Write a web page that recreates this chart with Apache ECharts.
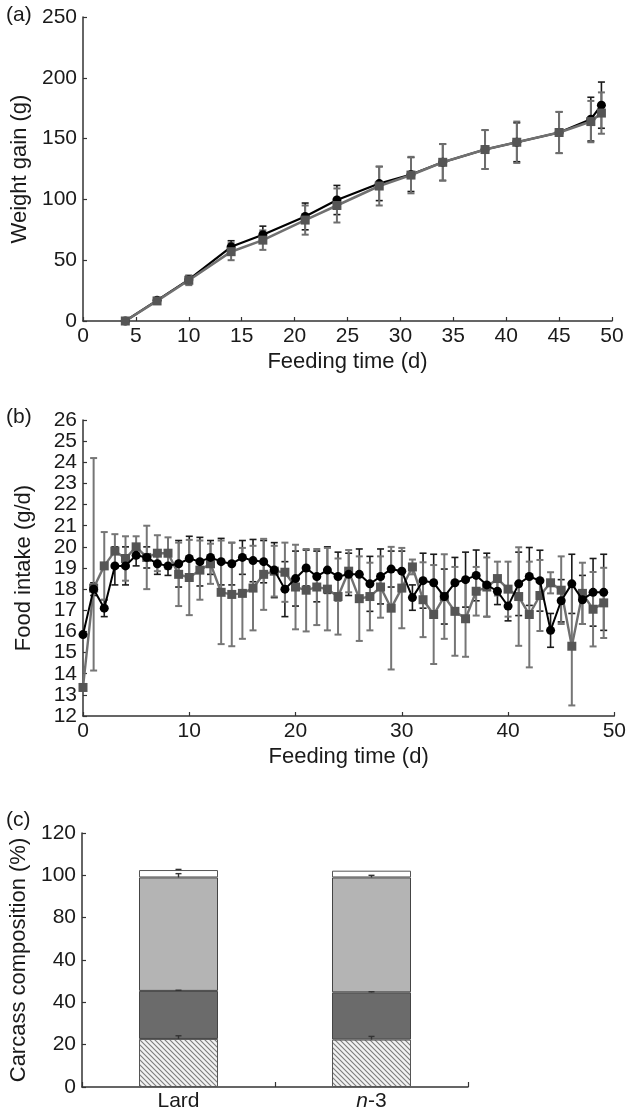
<!DOCTYPE html>
<html>
<head>
<meta charset="utf-8">
<script src="https://cdn.jsdelivr.net/npm/echarts@6/dist/echarts.min.js"></script>
<style>
html,body{margin:0;padding:0;background:#fff;}
#chart{width:629px;height:1112px;}
</style>
</head>
<body>
<div id="chart"></div>
<script>
// ---------- Panel (a): weight gain ----------
const daysA = [4, 7, 10, 14, 17, 21, 24, 28, 31, 34, 38, 41, 45, 48, 49];
const gainLard = [0, 17, 34, 61, 71, 86, 99.5, 113, 120.5, 130.5, 141, 147, 155, 166, 177.5];
const gainN3 = [0, 16.5, 33.5, 57, 66.5, 83, 95, 111, 120, 130.5, 141, 147, 155, 164, 171];
const sdGainLard = [0.5, 2, 3, 5, 7, 11, 12, 14, 14, 15, 16, 16, 17, 18, 19];
const sdGainN3 = [0.5, 2, 4, 7, 8, 12, 14, 16, 15, 15, 16, 17, 17, 17, 17];

// ---------- Panel (b): food intake ----------
const daysB = [0,1,2,3,4,5,6,7,8,9,10,11,12,13,14,15,16,17,18,19,20,21,22,23,24,25,26,27,28,29,30,31,32,33,34,35,36,37,38,39,40,41,42,43,44,45,46,47,48,49];
const intakeLard = [15.85,18.0,17.1,19.1,19.1,19.6,19.5,19.2,19.1,19.2,
  19.45,19.3,19.5,19.3,19.2,19.5,19.35,19.3,18.9,18.0,
  18.5,19.0,18.6,18.9,18.6,18.7,18.7,18.25,18.6,18.95,
  18.85,17.6,18.4,18.3,17.65,18.3,18.45,18.65,18.2,17.9,
  17.2,18.25,18.6,18.4,16.05,17.45,18.25,17.5,17.85,17.85];
const intakeN3 = [13.35,18.05,19.1,19.8,19.45,20.0,19.5,19.7,19.7,18.7,
  18.55,18.9,19.2,17.85,17.75,17.8,18.05,18.7,18.85,18.8,
  18.1,17.95,18.1,18.0,17.65,18.85,17.55,17.65,18.1,17.1,
  18.05,19.05,17.5,16.8,17.65,16.95,16.6,17.9,18.1,18.5,
  18.0,17.65,16.8,17.7,18.3,17.95,15.3,17.8,17.05,17.35];
const sdIntakeLard = [0,0.3,0.4,0.9,0.9,0.5,0.5,0.5,0.45,1.1,
  1.05,1.15,0.8,1.1,1.0,0.8,1.0,1.0,1.3,1.3,
  1.3,0.85,1.2,1.1,1.15,1.0,1.2,1.3,1.3,0.85,
  0.95,0.6,1.3,1.35,1.3,1.2,1.3,1.2,1.5,0.63,
  0.7,1.5,1.37,1.44,0.8,1.0,1.4,1.15,1.6,1.8];
// upper and lower error lengths of the square series
const sdIntakeN3Up = [0,6.15,1.6,0.8,1.05,0.5,1.5,0.85,0.75,1.5,
  1.78,1.4,0.95,2.45,2.45,2.15,2.0,1.68,1.2,1.4,
  2.0,1.95,1.8,1.95,1.8,1.0,2.0,1.6,1.45,2.9,
  1.9,0.35,1.77,2.34,2.0,2.1,1.8,1.15,1.4,0.8,
  1.3,2.33,2.5,1.68,0.5,1.6,2.8,1.45,1.76,1.66];
const sdIntakeN3Low = [0,3.9,1.6,0.8,1.05,0.5,1.5,0.85,0.75,1.5,
  1.78,1.4,0.95,2.45,2.45,2.15,2.0,1.68,1.2,1.4,
  2.0,1.95,1.8,1.95,1.8,1.0,2.0,1.6,1.45,2.9,
  1.9,0.35,1.77,2.34,2.0,2.1,1.8,1.15,1.4,0.8,
  1.3,2.33,2.5,1.68,0.5,1.6,2.8,1.45,1.76,1.66];

// ---------- Panel (c): carcass composition ----------
const dietsC = ['Lard', 'n-3'];
const compHatched = [22.7, 22.4];
const compDark = [22.7, 22.3];
const compLight = [53.6, 54.3];
const compWhite = [3.5, 3.2];
const errHatched = [1.5, 1.5];
const errDark = [0.3, 0.3];
const errLight = [1.8, 1.0];
const errWhite = [0.3, 0];
const yTickLabelsC = ['0', '20', '40', '40', '80', '100', '120'];

// ---------- helpers ----------
const FONT = '"Liberation Sans", Arial, Helvetica, sans-serif';
const TXT = '#1a1a1a';

function errData(xs, ys, up, low) {
  low = low || up;
  return xs.map((x, i) => [x, ys[i] - low[i], ys[i] + up[i]]);
}
function makeErrRender(color, width, cap) {
  return function (params, api) {
    const x = api.value(0), lo = api.value(1), hi = api.value(2);
    if (hi - lo <= 0) return null;
    const pLo = api.coord([x, lo]);
    const pHi = api.coord([x, hi]);
    const st = { stroke: color, lineWidth: width };
    return {
      type: 'group',
      children: [
        { type: 'line', shape: { x1: pHi[0], y1: pHi[1], x2: pLo[0], y2: pLo[1] }, style: st },
        { type: 'line', shape: { x1: pHi[0] - cap, y1: pHi[1], x2: pHi[0] + cap, y2: pHi[1] }, style: st },
        { type: 'line', shape: { x1: pLo[0] - cap, y1: pLo[1], x2: pLo[0] + cap, y2: pLo[1] }, style: st }
      ]
    };
  };
}
function makeUpErrRender(color, width, cap) {
  return function (params, api) {
    const x = api.value(0), lo = api.value(1), hi = api.value(2);
    if (hi - lo <= 0) return null;
    const pLo = api.coord([x, lo]);
    const pHi = api.coord([x, hi]);
    const st = { stroke: color, lineWidth: width };
    return {
      type: 'group',
      children: [
        { type: 'line', shape: { x1: pHi[0], y1: pHi[1], x2: pLo[0], y2: pLo[1] }, style: st },
        { type: 'line', shape: { x1: pHi[0] - cap, y1: pHi[1], x2: pHi[0] + cap, y2: pHi[1] }, style: st }
      ]
    };
  };
}

// hatch pattern
const hatch = document.createElement('canvas');
hatch.width = 5; hatch.height = 5;
(function () {
  const c = hatch.getContext('2d');
  c.fillStyle = '#f2f2f2';
  c.fillRect(0, 0, 5, 5);
  c.strokeStyle = '#7c7c7c';
  c.lineWidth = 1.1;
  c.beginPath();
  c.moveTo(-1, -1); c.lineTo(6, 6);
  c.moveTo(-1, 4); c.lineTo(1, 6);
  c.moveTo(4, -1); c.lineTo(6, 1);
  c.stroke();
})();

// stacked tops for panel (c)
const topHatched = compHatched.slice();
const topDark = compDark.map((v, i) => topHatched[i] + v);
const topLight = compLight.map((v, i) => topDark[i] + v);
const topWhite = compWhite.map((v, i) => topLight[i] + v);
function upErr(tops, errs) { return tops.map((t, i) => [i, t, t + errs[i]]); }

const axisLineStyle = { color: '#333', width: 1.5 };
const tickStyle = { color: '#333', width: 1.2 };

function valueAxisX(grid, min, max, interval, name) {
  return {
    type: 'value', gridIndex: grid, min: min, max: max, interval: interval,
    name: name, nameLocation: 'middle', nameGap: 30,
    nameTextStyle: { fontFamily: FONT, fontSize: 22, color: TXT },
    axisLine: { show: true, onZero: false, lineStyle: axisLineStyle },
    axisTick: { show: true, inside: true, length: 4, lineStyle: tickStyle },
    axisLabel: { fontFamily: FONT, fontSize: 21, color: TXT, margin: 5 },
    splitLine: { show: false }
  };
}
function valueAxisY(grid, min, max, interval, name, gap, fmt) {
  return {
    type: 'value', gridIndex: grid, min: min, max: max, interval: interval,
    name: name, nameLocation: 'middle', nameGap: gap, nameRotate: 90,
    nameTextStyle: { fontFamily: FONT, fontSize: 22, color: TXT },
    axisLine: { show: true, onZero: false, lineStyle: axisLineStyle },
    axisTick: { show: true, inside: true, length: 4, lineStyle: tickStyle },
    axisLabel: { fontFamily: FONT, fontSize: 21, color: TXT, margin: 6, formatter: fmt },
    splitLine: { show: false }
  };
}

const chart = echarts.init(document.getElementById('chart'), null, { renderer: 'canvas' });

const option = {
  backgroundColor: '#ffffff',
  animation: false,
  grid: [
    { left: 83, top: 17, width: 529, height: 304 },
    { left: 83, top: 420, width: 536, height: 296 },
    { left: 82, top: 833, width: 386, height: 254 }
  ],
  xAxis: [
    valueAxisX(0, 0, 50, 5, 'Feeding time (d)'),
    valueAxisX(1, 0, 50, 10, 'Feeding time (d)'),
    {
      type: 'category', gridIndex: 2, data: dietsC,
      axisLine: { show: true, lineStyle: axisLineStyle },
      axisTick: { show: true, inside: true, length: 5, lineStyle: tickStyle },
      axisLabel: {
        fontFamily: FONT, fontSize: 21, color: TXT, margin: 4,
        formatter: function (v) { return v === 'n-3' ? '{i|n}-3' : v; },
        rich: { i: { fontFamily: FONT, fontSize: 21, fontStyle: 'italic', color: TXT } }
      },
      splitLine: { show: false }
    }
  ],
  yAxis: [
    valueAxisY(0, 0, 250, 50, 'Weight gain (g)', 51),
    valueAxisY(1, 12, 26, 1, 'Food intake (g/d)', 48),
    valueAxisY(2, 0, 120, 20, 'Carcass composition (%)', 50,
      function (v) { return yTickLabelsC[Math.round(v / 20)]; })
  ],
  graphic: [
    { type: 'text', left: 6, top: 5, style: { text: '(a)', font: '21px ' + FONT, fill: TXT } },
    { type: 'text', left: 6, top: 407, style: { text: '(b)', font: '21px ' + FONT, fill: TXT } },
    { type: 'text', left: 6, top: 810, style: { text: '(c)', font: '21px ' + FONT, fill: TXT } }
  ],
  series: [
    // ----- (a) -----
    { type: 'custom', xAxisIndex: 0, yAxisIndex: 0, renderItem: makeErrRender('#1a1a1a', 1.6, 3.5),
      data: errData(daysA, gainLard, sdGainLard), encode: { x: 0, y: [1, 2] }, z: 2 },
    { type: 'custom', xAxisIndex: 0, yAxisIndex: 0, renderItem: makeErrRender('#6e6e6e', 2, 3.5),
      data: errData(daysA, gainN3, sdGainN3), encode: { x: 0, y: [1, 2] }, z: 2 },
    { type: 'line', xAxisIndex: 0, yAxisIndex: 0, data: daysA.map((d, i) => [d, gainLard[i]]),
      symbol: 'circle', symbolSize: 9, itemStyle: { color: '#000' },
      lineStyle: { color: '#000', width: 2.2 }, z: 3 },
    { type: 'line', xAxisIndex: 0, yAxisIndex: 0, data: daysA.map((d, i) => [d, gainN3[i]]),
      symbol: 'rect', symbolSize: 9, itemStyle: { color: '#555' },
      lineStyle: { color: '#707070', width: 2.6 }, z: 4 },
    // ----- (b) -----
    { type: 'custom', xAxisIndex: 1, yAxisIndex: 1, renderItem: makeErrRender('#1a1a1a', 1.6, 3.5),
      data: errData(daysB, intakeLard, sdIntakeLard), encode: { x: 0, y: [1, 2] }, z: 2 },
    { type: 'custom', xAxisIndex: 1, yAxisIndex: 1, renderItem: makeErrRender('#767676', 2, 3.5),
      data: errData(daysB, intakeN3, sdIntakeN3Up, sdIntakeN3Low), encode: { x: 0, y: [1, 2] }, z: 2 },
    { type: 'line', xAxisIndex: 1, yAxisIndex: 1, data: daysB.map((d, i) => [d, intakeN3[i]]),
      symbol: 'rect', symbolSize: 9, itemStyle: { color: '#555' },
      lineStyle: { color: '#707070', width: 2.4 }, z: 3 },
    { type: 'line', xAxisIndex: 1, yAxisIndex: 1, data: daysB.map((d, i) => [d, intakeLard[i]]),
      symbol: 'circle', symbolSize: 9, itemStyle: { color: '#000' },
      lineStyle: { color: '#000', width: 2 }, z: 4 },
    // ----- (c) -----
    { type: 'bar', xAxisIndex: 2, yAxisIndex: 2, stack: 'c', data: compHatched, barWidth: 79,
      itemStyle: { color: { image: hatch, repeat: 'repeat' }, borderColor: '#555', borderWidth: 1 } },
    { type: 'bar', xAxisIndex: 2, yAxisIndex: 2, stack: 'c', data: compDark, barWidth: 79,
      itemStyle: { color: '#6b6b6b', borderColor: '#444', borderWidth: 1 } },
    { type: 'bar', xAxisIndex: 2, yAxisIndex: 2, stack: 'c', data: compLight, barWidth: 79,
      itemStyle: { color: '#b4b4b4', borderColor: '#444', borderWidth: 1 } },
    { type: 'bar', xAxisIndex: 2, yAxisIndex: 2, stack: 'c', data: compWhite, barWidth: 79,
      itemStyle: { color: '#ffffff', borderColor: '#555', borderWidth: 1 } },
    { type: 'custom', xAxisIndex: 2, yAxisIndex: 2, renderItem: makeUpErrRender('#333', 1.4, 3),
      data: upErr(topHatched, errHatched).concat(upErr(topDark, errDark), upErr(topLight, errLight), upErr(topWhite, errWhite)),
      encode: { x: 0, y: [1, 2] }, z: 5 }
  ]
};
chart.setOption(option);
</script>
</body>
</html>
